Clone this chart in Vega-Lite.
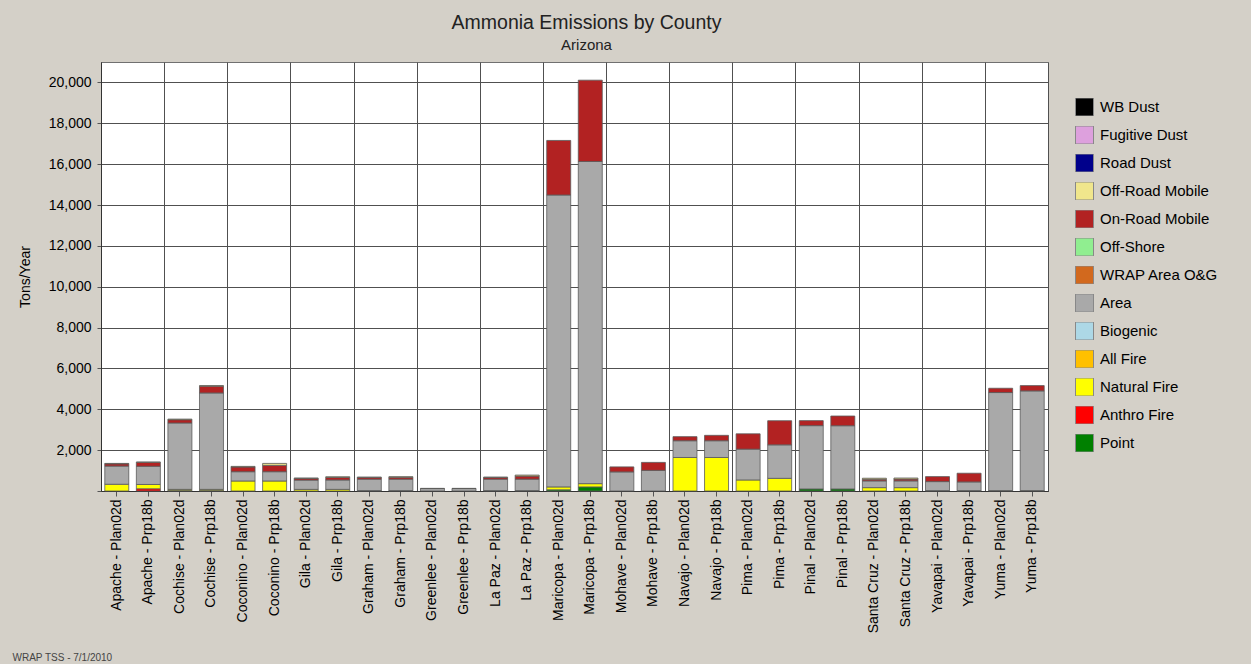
{
  "$schema": "https://vega.github.io/schema/vega-lite/v6.json",
  "width": 947,
  "height": 429,
  "autosize": "none",
  "padding": {"left": 101, "top": 62, "right": 203, "bottom": 173},
  "background": "#D4D0C8",
  "config": {"font": "Liberation Sans", "view": {"fill": "white", "stroke": "#707070"}},
  "title": {"text": "Ammonia Emissions by County", "subtitle": "Arizona", "fontSize": 19.5, "fontWeight": "normal", "subtitleFontSize": 15, "color": "#222222", "subtitleColor": "#222222", "anchor": "middle", "frame": "group", "offset": 8, "subtitlePadding": 5, "dx": 12},
  "data": {"values": [
    {"county": "Apache", "scenario": "Plan02d", "source": "Natural Fire", "tons": 330},
    {"county": "Apache", "scenario": "Plan02d", "source": "Area", "tons": 890},
    {"county": "Apache", "scenario": "Plan02d", "source": "On-Road Mobile", "tons": 110},
    {"county": "Apache", "scenario": "Plan02d", "source": "Off-Road Mobile", "tons": 20},
    {"county": "Apache", "scenario": "Prp18b", "source": "Anthro Fire", "tons": 110},
    {"county": "Apache", "scenario": "Prp18b", "source": "Natural Fire", "tons": 210},
    {"county": "Apache", "scenario": "Prp18b", "source": "Area", "tons": 890},
    {"county": "Apache", "scenario": "Prp18b", "source": "On-Road Mobile", "tons": 190},
    {"county": "Apache", "scenario": "Prp18b", "source": "Off-Road Mobile", "tons": 20},
    {"county": "Cochise", "scenario": "Plan02d", "source": "Point", "tons": 20},
    {"county": "Cochise", "scenario": "Plan02d", "source": "Natural Fire", "tons": 60},
    {"county": "Cochise", "scenario": "Plan02d", "source": "Area", "tons": 3250},
    {"county": "Cochise", "scenario": "Plan02d", "source": "On-Road Mobile", "tons": 160},
    {"county": "Cochise", "scenario": "Plan02d", "source": "Off-Road Mobile", "tons": 30},
    {"county": "Cochise", "scenario": "Prp18b", "source": "Point", "tons": 20},
    {"county": "Cochise", "scenario": "Prp18b", "source": "Natural Fire", "tons": 60},
    {"county": "Cochise", "scenario": "Prp18b", "source": "Area", "tons": 4720},
    {"county": "Cochise", "scenario": "Prp18b", "source": "On-Road Mobile", "tons": 330},
    {"county": "Cochise", "scenario": "Prp18b", "source": "Off-Road Mobile", "tons": 30},
    {"county": "Coconino", "scenario": "Plan02d", "source": "Natural Fire", "tons": 490},
    {"county": "Coconino", "scenario": "Plan02d", "source": "Area", "tons": 455},
    {"county": "Coconino", "scenario": "Plan02d", "source": "On-Road Mobile", "tons": 230},
    {"county": "Coconino", "scenario": "Plan02d", "source": "Off-Road Mobile", "tons": 30},
    {"county": "Coconino", "scenario": "Prp18b", "source": "Natural Fire", "tons": 490},
    {"county": "Coconino", "scenario": "Prp18b", "source": "Area", "tons": 455},
    {"county": "Coconino", "scenario": "Prp18b", "source": "On-Road Mobile", "tons": 310},
    {"county": "Coconino", "scenario": "Prp18b", "source": "Off-Road Mobile", "tons": 95},
    {"county": "Gila", "scenario": "Plan02d", "source": "Natural Fire", "tons": 80},
    {"county": "Gila", "scenario": "Plan02d", "source": "Area", "tons": 455},
    {"county": "Gila", "scenario": "Plan02d", "source": "On-Road Mobile", "tons": 80},
    {"county": "Gila", "scenario": "Plan02d", "source": "Off-Road Mobile", "tons": 20},
    {"county": "Gila", "scenario": "Prp18b", "source": "Natural Fire", "tons": 80},
    {"county": "Gila", "scenario": "Prp18b", "source": "Area", "tons": 460},
    {"county": "Gila", "scenario": "Prp18b", "source": "On-Road Mobile", "tons": 120},
    {"county": "Gila", "scenario": "Prp18b", "source": "Off-Road Mobile", "tons": 40},
    {"county": "Graham", "scenario": "Plan02d", "source": "Point", "tons": 20},
    {"county": "Graham", "scenario": "Plan02d", "source": "Area", "tons": 560},
    {"county": "Graham", "scenario": "Plan02d", "source": "On-Road Mobile", "tons": 80},
    {"county": "Graham", "scenario": "Plan02d", "source": "Off-Road Mobile", "tons": 25},
    {"county": "Graham", "scenario": "Prp18b", "source": "Point", "tons": 20},
    {"county": "Graham", "scenario": "Prp18b", "source": "Area", "tons": 560},
    {"county": "Graham", "scenario": "Prp18b", "source": "On-Road Mobile", "tons": 90},
    {"county": "Graham", "scenario": "Prp18b", "source": "Off-Road Mobile", "tons": 30},
    {"county": "Greenlee", "scenario": "Plan02d", "source": "Area", "tons": 120},
    {"county": "Greenlee", "scenario": "Plan02d", "source": "Off-Road Mobile", "tons": 10},
    {"county": "Greenlee", "scenario": "Prp18b", "source": "Area", "tons": 120},
    {"county": "Greenlee", "scenario": "Prp18b", "source": "Off-Road Mobile", "tons": 10},
    {"county": "La Paz", "scenario": "Plan02d", "source": "Point", "tons": 20},
    {"county": "La Paz", "scenario": "Plan02d", "source": "Area", "tons": 560},
    {"county": "La Paz", "scenario": "Plan02d", "source": "On-Road Mobile", "tons": 80},
    {"county": "La Paz", "scenario": "Plan02d", "source": "Off-Road Mobile", "tons": 25},
    {"county": "La Paz", "scenario": "Prp18b", "source": "Point", "tons": 20},
    {"county": "La Paz", "scenario": "Prp18b", "source": "Area", "tons": 560},
    {"county": "La Paz", "scenario": "Prp18b", "source": "On-Road Mobile", "tons": 150},
    {"county": "La Paz", "scenario": "Prp18b", "source": "Off-Road Mobile", "tons": 50},
    {"county": "Maricopa", "scenario": "Plan02d", "source": "Point", "tons": 60},
    {"county": "Maricopa", "scenario": "Plan02d", "source": "Natural Fire", "tons": 140},
    {"county": "Maricopa", "scenario": "Plan02d", "source": "Area", "tons": 14290},
    {"county": "Maricopa", "scenario": "Plan02d", "source": "On-Road Mobile", "tons": 2670},
    {"county": "Maricopa", "scenario": "Prp18b", "source": "Point", "tons": 200},
    {"county": "Maricopa", "scenario": "Prp18b", "source": "Natural Fire", "tons": 160},
    {"county": "Maricopa", "scenario": "Prp18b", "source": "Area", "tons": 15770},
    {"county": "Maricopa", "scenario": "Prp18b", "source": "On-Road Mobile", "tons": 3980},
    {"county": "Mohave", "scenario": "Plan02d", "source": "Area", "tons": 935},
    {"county": "Mohave", "scenario": "Plan02d", "source": "On-Road Mobile", "tons": 245},
    {"county": "Mohave", "scenario": "Prp18b", "source": "Area", "tons": 1010},
    {"county": "Mohave", "scenario": "Prp18b", "source": "On-Road Mobile", "tons": 390},
    {"county": "Navajo", "scenario": "Plan02d", "source": "Natural Fire", "tons": 1640},
    {"county": "Navajo", "scenario": "Plan02d", "source": "Area", "tons": 820},
    {"county": "Navajo", "scenario": "Plan02d", "source": "On-Road Mobile", "tons": 200},
    {"county": "Navajo", "scenario": "Prp18b", "source": "Natural Fire", "tons": 1640},
    {"county": "Navajo", "scenario": "Prp18b", "source": "Area", "tons": 820},
    {"county": "Navajo", "scenario": "Prp18b", "source": "On-Road Mobile", "tons": 265},
    {"county": "Pima", "scenario": "Plan02d", "source": "Natural Fire", "tons": 540},
    {"county": "Pima", "scenario": "Plan02d", "source": "Area", "tons": 1510},
    {"county": "Pima", "scenario": "Plan02d", "source": "On-Road Mobile", "tons": 750},
    {"county": "Pima", "scenario": "Prp18b", "source": "Natural Fire", "tons": 620},
    {"county": "Pima", "scenario": "Prp18b", "source": "Area", "tons": 1640},
    {"county": "Pima", "scenario": "Prp18b", "source": "On-Road Mobile", "tons": 1180},
    {"county": "Pinal", "scenario": "Plan02d", "source": "Point", "tons": 100},
    {"county": "Pinal", "scenario": "Plan02d", "source": "Area", "tons": 3100},
    {"county": "Pinal", "scenario": "Plan02d", "source": "On-Road Mobile", "tons": 245},
    {"county": "Pinal", "scenario": "Prp18b", "source": "Point", "tons": 100},
    {"county": "Pinal", "scenario": "Prp18b", "source": "Area", "tons": 3095},
    {"county": "Pinal", "scenario": "Prp18b", "source": "On-Road Mobile", "tons": 475},
    {"county": "Santa Cruz", "scenario": "Plan02d", "source": "Natural Fire", "tons": 165},
    {"county": "Santa Cruz", "scenario": "Plan02d", "source": "Area", "tons": 330},
    {"county": "Santa Cruz", "scenario": "Plan02d", "source": "On-Road Mobile", "tons": 80},
    {"county": "Santa Cruz", "scenario": "Plan02d", "source": "Off-Road Mobile", "tons": 50},
    {"county": "Santa Cruz", "scenario": "Prp18b", "source": "Natural Fire", "tons": 165},
    {"county": "Santa Cruz", "scenario": "Prp18b", "source": "Area", "tons": 330},
    {"county": "Santa Cruz", "scenario": "Prp18b", "source": "On-Road Mobile", "tons": 90},
    {"county": "Santa Cruz", "scenario": "Prp18b", "source": "Off-Road Mobile", "tons": 50},
    {"county": "Yavapai", "scenario": "Plan02d", "source": "Point", "tons": 20},
    {"county": "Yavapai", "scenario": "Plan02d", "source": "Area", "tons": 440},
    {"county": "Yavapai", "scenario": "Plan02d", "source": "On-Road Mobile", "tons": 245},
    {"county": "Yavapai", "scenario": "Prp18b", "source": "Point", "tons": 20},
    {"county": "Yavapai", "scenario": "Prp18b", "source": "Area", "tons": 425},
    {"county": "Yavapai", "scenario": "Prp18b", "source": "On-Road Mobile", "tons": 425},
    {"county": "Yuma", "scenario": "Plan02d", "source": "Point", "tons": 20},
    {"county": "Yuma", "scenario": "Plan02d", "source": "Area", "tons": 4800},
    {"county": "Yuma", "scenario": "Plan02d", "source": "On-Road Mobile", "tons": 210},
    {"county": "Yuma", "scenario": "Prp18b", "source": "Point", "tons": 20},
    {"county": "Yuma", "scenario": "Prp18b", "source": "Area", "tons": 4880},
    {"county": "Yuma", "scenario": "Prp18b", "source": "On-Road Mobile", "tons": 260}
  ]},
  "transform": [
    {"calculate": "datum.county + ' - ' + datum.scenario", "as": "bar"},
    {"calculate": "indexof(['Point','Anthro Fire','Natural Fire','All Fire','Biogenic','Area','WRAP Area O&G','Off-Shore','On-Road Mobile','Off-Road Mobile','Road Dust','Fugitive Dust','WB Dust'], datum.source)", "as": "ord"}
  ],
  "layer": [
    {
      "mark": {"type": "tick", "opacity": 0},
      "encoding": {
        "x": {"field": "county", "type": "nominal", "scale": {"paddingInner": 0, "paddingOuter": 0},
          "axis": {"orient": "top", "grid": true, "tickBand": "extent", "labels": false, "ticks": false, "domain": false, "title": null, "gridColor": "#505050", "gridWidth": 1, "gridOpacity": 1}}
      }
    },
    {
      "mark": {"type": "bar", "stroke": "#5a5a5a", "strokeWidth": 0.8},
      "encoding": {
        "x": {"field": "bar", "type": "nominal", "scale": {"paddingInner": 0.24, "paddingOuter": 0.12},
          "axis": {"labelAngle": -90, "labelFontSize": 14, "labelColor": "#000000", "labelPadding": 3, "tickSize": 5, "tickColor": "#555555", "domainColor": "#333333", "grid": false,
            "title": "WRAP TSS - 7/1/2010", "titleFontSize": 10, "titleFontWeight": "normal", "titleColor": "#444444", "titleAlign": "left", "titleAnchor": "start", "titleBaseline": "middle", "titleX": -89, "titleY": 166, "titleAngle": 0}},
        "y": {"field": "tons", "type": "quantitative", "stack": "zero", "scale": {"domain": [0, 21000], "nice": false},
          "axis": {"values": [0, 2000, 4000, 6000, 8000, 10000, 12000, 14000, 16000, 18000, 20000], "format": ",d", "labelExpr": "datum.value == 0 ? '' : datum.label", "labelFontSize": 14, "labelColor": "#000000", "labelPadding": 6, "tickSize": 4, "tickColor": "#555555", "domainColor": "#333333", "grid": true, "gridColor": "#505050", "gridOpacity": 1,
            "title": "Tons/Year", "titleFontSize": 14, "titleFontWeight": "normal", "titleColor": "#000000", "titlePadding": 16}},
        "color": {"field": "source", "type": "nominal",
          "scale": {"domain": ["WB Dust", "Fugitive Dust", "Road Dust", "Off-Road Mobile", "On-Road Mobile", "Off-Shore", "WRAP Area O&G", "Area", "Biogenic", "All Fire", "Natural Fire", "Anthro Fire", "Point"],
            "range": ["#000000", "#DDA0DD", "#00008B", "#F0E68C", "#B22222", "#90EE90", "#D2691E", "#A9A9A9", "#ADD8E6", "#FFC000", "#FFFF00", "#FF0000", "#008000"]},
          "legend": {"orient": "none", "legendX": 974, "legendY": 36, "title": null, "symbolType": "square", "symbolSize": 324, "symbolStrokeColor": "#888888", "symbolStrokeWidth": 1, "symbolOpacity": 1, "labelFontSize": 15, "labelColor": "#000000", "rowPadding": 10, "labelOffset": 6, "symbolLimit": 0, "clipHeight": 18}},
        "order": {"field": "ord", "type": "quantitative", "sort": "ascending"}
      }
    }
  ],
  "resolve": {"scale": {"x": "independent"}, "axis": {"x": "independent"}}
}
